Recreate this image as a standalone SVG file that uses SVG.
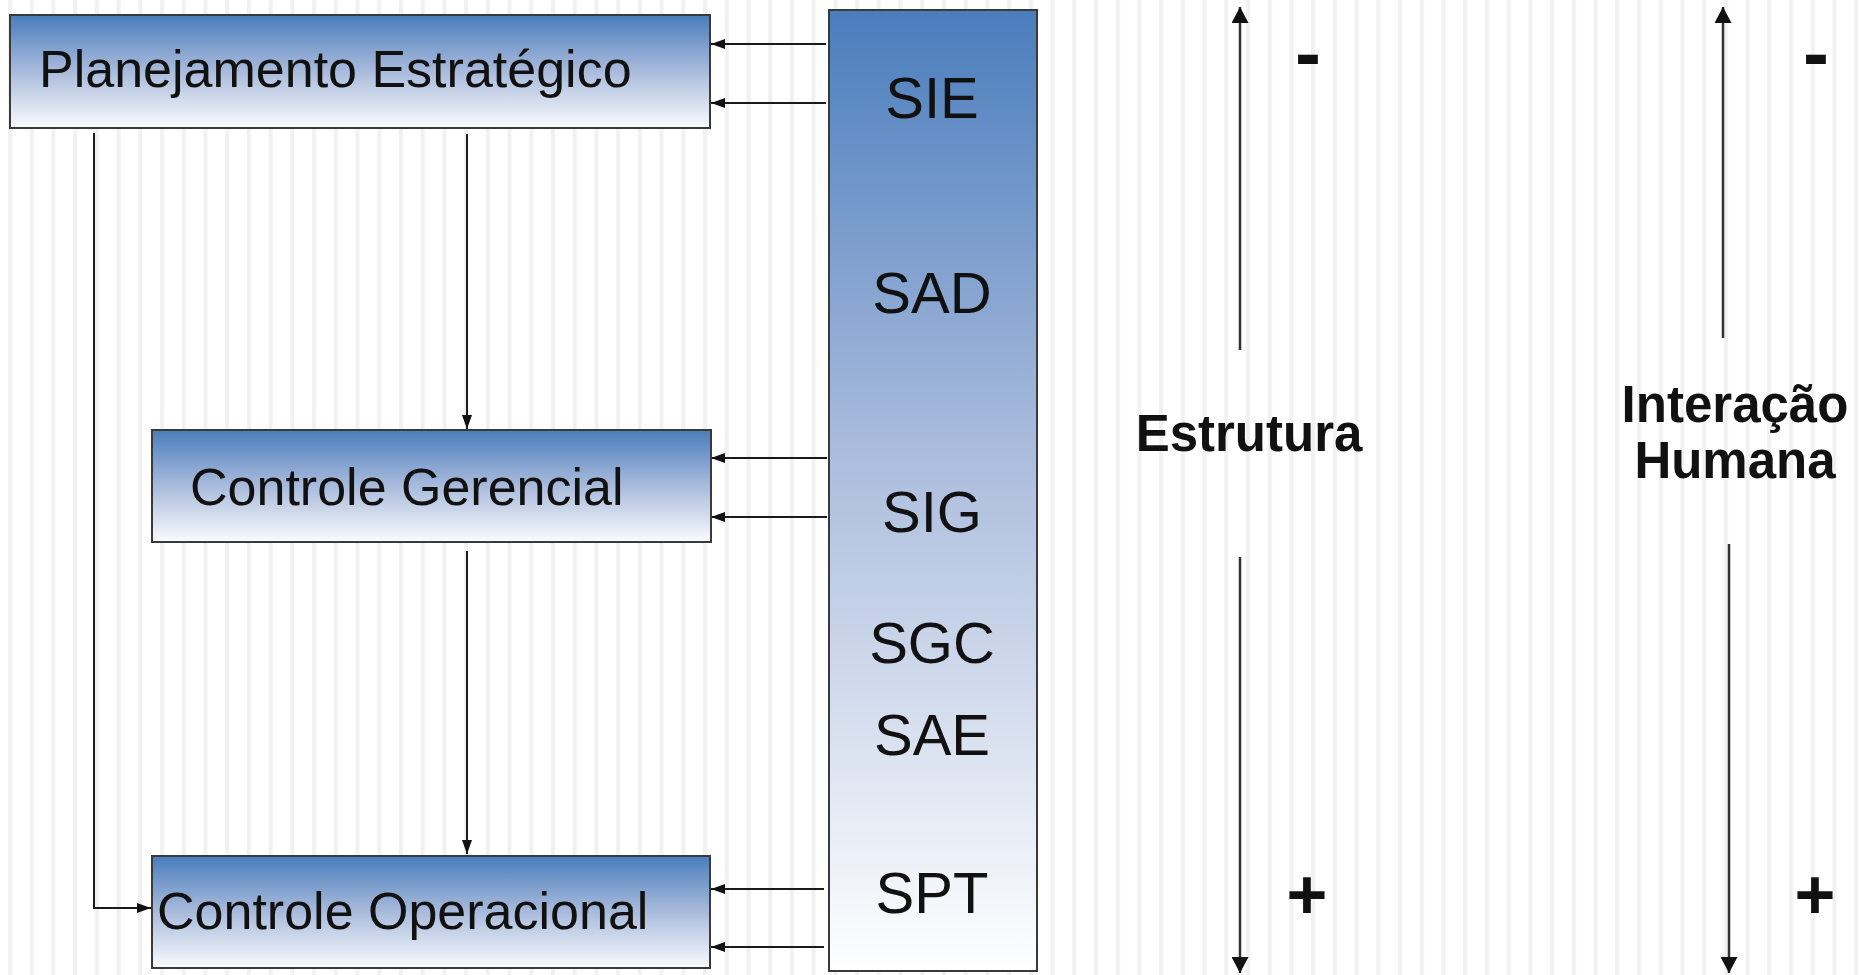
<svg xmlns="http://www.w3.org/2000/svg" width="1860" height="975" viewBox="0 0 1860 975">
<defs>
<style>
.box{stroke:#3a3a3a;stroke-width:2}
.lbl{font-family:"Liberation Sans",Arial,sans-serif;font-size:52px;fill:#111}
.col{font-family:"Liberation Sans",Arial,sans-serif;font-size:58px;fill:#111;text-anchor:middle}
.axis{font-family:"Liberation Sans",Arial,sans-serif;font-weight:bold;font-size:51px;fill:#111;text-anchor:middle}
.sign{font-family:"Liberation Sans",Arial,sans-serif;font-weight:bold;fill:#111;text-anchor:middle}
.conn{stroke:#1a1a1a;stroke-width:2;fill:none}
.ax{stroke:#333;stroke-width:2.5;fill:none}
</style>
<pattern id="stripes" x="0" y="0" width="21.72" height="20" patternUnits="userSpaceOnUse">
<rect x="0" y="0" width="21.72" height="20" fill="#ffffff"/>
<rect x="8" y="0" width="4" height="20" fill="#f1f1f1"/>
</pattern>
<linearGradient id="gbox" x1="0" y1="0" x2="0" y2="1">
<stop offset="0" stop-color="#4a7dbc"/>
<stop offset="0.5" stop-color="#a9bbdc"/>
<stop offset="1" stop-color="#fafbfd"/>
</linearGradient>
<linearGradient id="gcol" x1="0" y1="0" x2="0" y2="1">
<stop offset="0" stop-color="#4a7dbc"/>
<stop offset="0.45" stop-color="#a9bbdc"/>
<stop offset="1" stop-color="#ffffff"/>
</linearGradient>
<marker id="ah" viewBox="0 0 14 10" refX="14" refY="5" markerWidth="14" markerHeight="10" markerUnits="userSpaceOnUse" orient="auto">
<path d="M0,0 L14,5 L0,10 z" fill="#111"/>
</marker>
<marker id="ahb" viewBox="0 0 16 17" refX="16" refY="8.5" markerWidth="16" markerHeight="17" markerUnits="userSpaceOnUse" orient="auto">
<path d="M0,0 L16,8.5 L0,17 z" fill="#111"/>
</marker>
</defs>
<rect x="0" y="0" width="1860" height="975" fill="url(#stripes)"/>

<g id="connectors">
<path class="conn" d="M826,44 H711" marker-end="url(#ah)"/>
<path class="conn" d="M826,103 H711" marker-end="url(#ah)"/>
<path class="conn" d="M827,458 H711" marker-end="url(#ah)"/>
<path class="conn" d="M827,517 H711" marker-end="url(#ah)"/>
<path class="conn" d="M824,889 H711" marker-end="url(#ah)"/>
<path class="conn" d="M824,947 H711" marker-end="url(#ah)"/>
<path class="conn" d="M467,134 V429" marker-end="url(#ah)"/>
<path class="conn" d="M467,551 V854" marker-end="url(#ah)"/>
<path class="conn" d="M94,133 V908 H151" marker-end="url(#ah)"/>
<path class="ax" d="M1240,350 V7" marker-end="url(#ahb)"/>
<path class="ax" d="M1240,557 V973" marker-end="url(#ahb)"/>
<path class="ax" d="M1723,338 V7" marker-end="url(#ahb)"/>
<path class="ax" d="M1729,544 V973" marker-end="url(#ahb)"/>
</g>

<g id="planejamento">
<rect class="box" x="10" y="15" width="700" height="113" fill="url(#gbox)"/>
<text class="lbl" x="39" y="87">Planejamento Estratégico</text>
</g>
<g id="gerencial">
<rect class="box" x="152" y="430" width="559" height="112" fill="url(#gbox)"/>
<text class="lbl" x="190" y="505">Controle Gerencial</text>
</g>
<g id="operacional">
<rect class="box" x="152" y="856" width="558" height="112" fill="url(#gbox)"/>
<text class="lbl" x="157" y="929">Controle Operacional</text>
</g>
<g id="sistemas">
<rect class="box" x="829" y="10" width="208" height="961" fill="url(#gcol)"/>
<text class="col" x="932" y="118">SIE</text>
<text class="col" x="932" y="313">SAD</text>
<text class="col" x="932" y="532">SIG</text>
<text class="col" x="932" y="663">SGC</text>
<text class="col" x="932" y="755">SAE</text>
<text class="col" x="932" y="913">SPT</text>
</g>
<g id="estrutura">
<text class="axis" x="1249" y="451">Estrutura</text>
<text class="sign" x="1308" y="80" font-size="78">-</text>
<text class="sign" x="1307" y="919" font-size="70">+</text>
</g>
<g id="interacao">
<text class="axis" x="1735" y="422">Interação</text>
<text class="axis" x="1735" y="478">Humana</text>
<text class="sign" x="1816" y="80" font-size="78">-</text>
<text class="sign" x="1815" y="919" font-size="70">+</text>
</g>
</svg>
